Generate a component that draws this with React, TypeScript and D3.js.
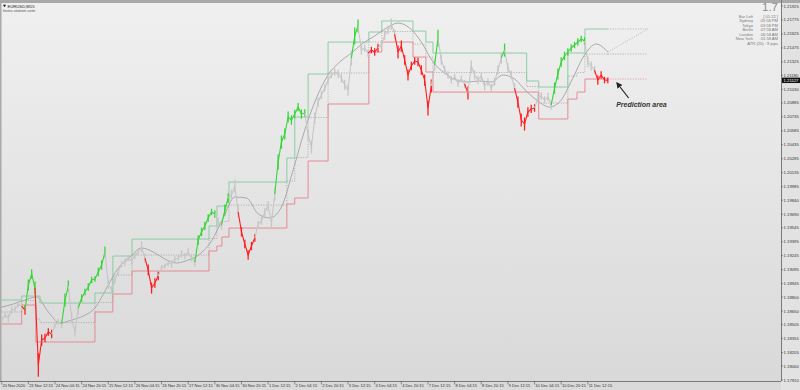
import React from 'react';
import * as d3 from 'd3';

const PRICE_TICKS = ["1.21925","1.21775","1.21625","1.21475","1.21325","1.21180","1.21030","1.20885","1.20735","1.20585","1.20435","1.20285","1.20135","1.19985","1.19840","1.19690","1.19545","1.19395","1.19245","1.19095","1.18945","1.18800","1.18650","1.18505","1.18355","1.18205","1.18060","1.17910"];
const TIME_LABELS = ["20 Nov 2020","23 Nov 12:15","24 Nov 04:15","24 Nov 20:15","25 Nov 12:15","26 Nov 04:15","26 Nov 20:15","27 Nov 12:15","30 Nov 04:15","30 Nov 20:15","1 Dec 12:15","2 Dec 04:15","2 Dec 20:15","3 Dec 12:15","4 Dec 04:15","4 Dec 20:15","7 Dec 12:15","8 Dec 04:15","8 Dec 20:15","9 Dec 12:15","10 Dec 04:15","10 Dec 20:15","11 Dec 12:15"];
const LABEL_BARS = 64;
const TOTAL_BARS = 1872;

// close every 8 bars (M15)
const PRICE_STEP = 8;
const PRICE = [
1.18554,1.18608,1.18575,1.18661,1.18672,1.18726,1.18704,1.18661,1.18930,1.19048,
1.18897,1.18071,1.18339,1.18361,1.18425,1.18404,1.18500,1.18532,1.18511,1.18769,
1.18919,1.18575,1.18425,1.18683,1.18790,1.18854,1.18908,1.18983,1.18994,1.19069,
1.19144,1.19284,1.18940,1.18876,1.18983,1.19069,1.19155,1.19176,1.19219,1.19187,
1.19252,1.19284,1.19338,1.19219,1.19091,1.18897,1.18951,1.19026,1.19112,1.19134,
1.19166,1.19155,1.19209,1.19219,1.19262,1.19241,1.19284,1.19219,1.19176,1.19413,
1.19500,1.19564,1.19650,1.19714,1.19693,1.19607,1.19575,1.19735,1.19864,1.19897,
1.19993,1.19714,1.19500,1.19370,1.19252,1.19348,1.19434,1.19585,1.19618,1.19714,
1.19778,1.19607,1.19907,1.20251,1.20465,1.20551,1.20733,1.20701,1.20765,1.20840,
1.20765,1.20776,1.20541,1.20411,1.20722,1.20894,1.20969,1.21044,1.21130,1.21184,
1.21216,1.21195,1.21152,1.21077,1.21023,1.21366,1.21603,1.21710,1.21452,1.21474,
1.21420,1.21452,1.21431,1.21474,1.21506,1.21613,1.21667,1.21731,1.21624,1.21431,
1.21495,1.21345,1.21184,1.21281,1.21334,1.21324,1.21238,1.21130,1.20830,1.21066,
1.21291,1.21581,1.21345,1.21238,1.21184,1.21130,1.21162,1.21099,1.21141,1.21087,
1.20991,1.21281,1.21184,1.21130,1.21173,1.21066,1.21109,1.21044,1.21109,1.21238,
1.21366,1.21452,1.21259,1.21184,1.21044,1.20894,1.20701,1.20658,1.20787,1.20820,
1.20830,1.20937,1.20959,1.20916,1.20949,1.20862,1.21044,1.21195,1.21324,1.21388,
1.21431,1.21474,1.21506,1.21538,1.21570,1.21549,1.21324,1.21281,1.21238,1.21130,
1.21184,1.21130,1.21127];
// high-low range (pips) of each 8-bar block
const RANGE_PIPS = [
8,7,9,8,6,7,9,10,12,10,14,
25,
12,9,8,9,7,6,8,
14,12,
12,10,14,
8,7,8,7,6,9,10,12,
10,9,8,9,7,8,7,8,9,8,12,10,
12,12,10,9,
7,6,6,8,7,6,8,7,9,8,10,
10,9,9,8,7,8,9,10,12,10,11,14,
12,10,9,10,9,8,
7,8,9,10,12,14,
16,14,12,12,10,9,9,10,8,
12,14,12,10,9,8,8,7,8,9,10,11,12,
16,18,14,
10,8,8,7,8,9,8,10,9,12,10,
14,12,10,12,9,8,9,10,12,16,14,
12,18,
10,9,8,8,7,8,7,9,
14,
12,10,9,8,9,8,9,8,10,12,
14,
10,9,10,12,14,14,10,9,8,
9,8,8,9,10,
12,12,10,9,8,8,7,8,7,8,
12,10,9,10,8,7,6];
// n = between channels, u = above upper channel, d = below lower channel
const STATE_RUNS: [string, number][] = [
["n",7],["d",1],["u",3],["d",5],["n",3],["u",2],["n",3],["u",8],["n",12],["d",4],
["n",11],["u",6],["n",2],["u",2],["n",3],["d",5],["n",6],["u",9],["n",14],["u",2],
["n",3],["d",3],["n",5],["d",11],["n",1],["u",1],["n",8],["d",1],["n",10],["u",1],
["n",3],["d",6],["n",5],["u",10],["n",3],["d",4]];

const MA_STEP = 28;
const MA = [1.18693,1.18726,1.18769,1.18801,1.18640,1.18522,1.18554,1.18597,1.18683,1.18897,
1.19112,1.19230,1.19327,1.19284,1.19209,1.19166,1.19198,1.19262,1.19403,1.19650,
1.19874,1.19864,1.19693,1.19650,1.19767,1.20164,1.20593,1.20937,1.21184,1.21324,
1.21420,1.21527,1.21603,1.21688,1.21742,1.21688,1.21538,1.21324,1.21205,1.21130,
1.21109,1.21120,1.21109,1.21184,1.21141,1.21012,1.20905,1.20840,1.20916,1.21152,
1.21399,1.21517,1.21431];

const CH_BREAKS = [0,48,82,92,224,267,313,498,517,529,546,685,704,736,784,882,913,988,1019,1036,1261,1290,1360,1382,1401,1456];
const UPPER = [1.18769,1.18811,1.18811,1.18736,1.18844,1.19241,1.19423,1.19563,1.19778,1.19778,1.20035,1.20293,1.20733,1.21195,1.21538,1.21646,1.21764,1.21656,1.21538,1.21420,1.21120,1.21055,1.21420,1.21420,1.21678];
const LOWER = [1.18511,1.18715,1.18318,1.18318,1.18640,1.18833,1.19080,1.19295,1.19348,1.19445,1.19541,1.19799,1.19864,1.20261,1.20873,1.21431,1.21538,1.21377,1.21216,1.21001,1.21001,1.20712,1.20926,1.21001,1.21141];
const PREDICT_BARS = 96;
const CURRENT_PRICE = 1.21127;

const INFO_LABELS = ["Bar Left", "Sydney", "Tokyo", "Berlin", "London", "New York"];
const INFO_VALUES = ["[ 01:22 ]", "05:58 PM", "03:58 PM", "07:58 AM", "06:58 AM", "01:58 AM"];
const ATR_TEXT = "ATR (20) : 9 pips";
const SPREAD_TEXT = "1.7";

const W = 800, H = 390;
const PLOT_R = 781, PLOT_B = 381;
const FONT = "'Liberation Sans', Arial, sans-serif";
const COLORS: Record<string, string> = { u: "#35d635", d: "#ff1e1e", n: "#c6c6c6" };
const PIP = 0.0001;

export default function App() {
  const x = d3.scaleLinear().domain([0, TOTAL_BARS]).range([1.7, PLOT_R]);
  const y = d3.scaleLinear().domain([1.17910, 1.21925]).range([380, 6]);

  const states: string[] = [];
  STATE_RUNS.forEach(([s, n]) => { for (let i = 0; i < n; i++) states.push(s); });

  const pts = PRICE.map((p, i) => ({ b: i * PRICE_STEP, p, s: states[i] || 'n', r: RANGE_PIPS[i] || 6 }));
  const runs: { s: string; pts: { b: number; p: number }[] }[] = [];
  pts.forEach((pt, i) => {
    const last = runs[runs.length - 1];
    if (last && last.s === pt.s) last.pts.push(pt);
    else runs.push({ s: pt.s, pts: i > 0 ? [pts[i - 1], pt] : [pt] });
  });
  const line = d3.line<{ b: number; p: number }>().x(d => x(d.b)).y(d => y(d.p));

  const maPts = MA.map((p, i) => ({ b: i * MA_STEP, p }));
  const maLine = d3.line<{ b: number; p: number }>().x(d => x(d.b)).y(d => y(d.p)).curve(d3.curveMonotoneX);

  const endBar = CH_BREAKS[CH_BREAKS.length - 1];
  const stepPts = (vals: number[]) => [...vals.map((v, i) => ({ b: CH_BREAKS[i], p: v })), { b: endBar, p: vals[vals.length - 1] }];
  const step = d3.line<{ b: number; p: number }>().x(d => x(d.b)).y(d => y(d.p)).curve(d3.curveStepAfter);
  const mid = UPPER.map((u, i) => (u + LOWER[i]) / 2);

  const predEnd = endBar + PREDICT_BARS;
  const lastU = UPPER[UPPER.length - 1], lastL = LOWER[LOWER.length - 1], lastM = mid[mid.length - 1];
  const maLast = MA[MA.length - 1];

  return (
    <svg width={W} height={H} style={{ position: 'fixed', left: 0, top: 0, display: 'block' }} fontFamily={FONT}>
      <defs>
        <linearGradient id="bg" x1="0" y1="0" x2="0" y2="1">
          <stop offset="0" stopColor="#f0f0f0" />
          <stop offset="1" stopColor="#d9d9d9" />
        </linearGradient>
        <marker id="ah" viewBox="0 0 10 10" refX="8" refY="5" markerWidth="5" markerHeight="5" orient="auto">
          <path d="M0,0 L10,5 L0,10 Z" fill="#222" />
        </marker>
      </defs>
      <rect x={0} y={0} width={W} height={H} fill="#dcdcdc" />
      <rect x={0} y={0} width={PLOT_R} height={PLOT_B} fill="url(#bg)" />
      <rect x={PLOT_R} y={0} width={W - PLOT_R} height={H} fill="#e2e2e2" />
      <rect x={0} y={PLOT_B} width={PLOT_R} height={H - PLOT_B} fill="#dadada" />
      <rect x={0} y={0} width={W} height={3} fill="#a9a9a9" />
      <rect x={0} y={0} width={1.5} height={PLOT_B} fill="#a9a9a9" />

      {/* channels */}
      <path d={step(stepPts(mid)) || ''} fill="none" stroke="#9a9a9a" strokeWidth={0.8} strokeDasharray="1,1.5" />
      <path d={step(stepPts(UPPER)) || ''} fill="none" stroke="#80cb9e" strokeWidth={0.9} />
      <path d={step(stepPts(LOWER)) || ''} fill="none" stroke="#e6808b" strokeWidth={0.9} />

      {/* prediction area */}
      <line x1={x(endBar)} x2={x(predEnd)} y1={y(lastU)} y2={y(lastU)} stroke="#a8a8a8" strokeWidth={0.8} strokeDasharray="1,1.5" />
      <line x1={x(endBar)} x2={x(predEnd)} y1={y(lastM)} y2={y(lastM)} stroke="#9a9a9a" strokeWidth={0.8} strokeDasharray="1,1.5" />
      <line x1={x(endBar)} x2={x(predEnd)} y1={y(lastL)} y2={y(lastL)} stroke="#e6808b" strokeWidth={0.8} strokeDasharray="1,1.5" />
      <line x1={x(endBar)} x2={x(predEnd)} y1={y(maLast)} y2={y(lastU)} stroke="#a8a8a8" strokeWidth={0.8} strokeDasharray="1,1.5" />

      {/* MA */}
      <path d={maLine(maPts) || ''} fill="none" stroke="#a9a9a9" strokeWidth={1} />

      {/* price: block ranges and closes */}
      {pts.map((pt, i) => (
        <line key={'r' + i} x1={x(pt.b)} x2={x(pt.b)} y1={y(pt.p + pt.r * PIP * 0.5)} y2={y(pt.p - pt.r * PIP * 0.5)}
          stroke={COLORS[pt.s]} strokeWidth={1.3} />
      ))}
      {runs.map((r, i) => (
        <path key={i} d={line(r.pts) || ''} fill="none" stroke={COLORS[r.s]} strokeWidth={1.1} strokeLinejoin="round" />
      ))}

      {/* frame */}
      <line x1={PLOT_R + 0.5} x2={PLOT_R + 0.5} y1={0} y2={PLOT_B} stroke="#7a7a7a" strokeWidth={1} />
      <line x1={0} x2={PLOT_R} y1={PLOT_B + 0.5} y2={PLOT_B + 0.5} stroke="#7a7a7a" strokeWidth={1} />

      {/* y axis */}
      {PRICE_TICKS.map(t => (
        <g key={t}>
          <line x1={PLOT_R} x2={PLOT_R + 2} y1={y(+t)} y2={y(+t)} stroke="#555" strokeWidth={0.6} />
          <text x={PLOT_R + 2.6} y={y(+t) + 1.5} fontSize={4.2} fill="#333">{t}</text>
        </g>
      ))}
      <rect x={PLOT_R + 1} y={y(CURRENT_PRICE) - 2.7} width={W - PLOT_R - 1} height={5.4} fill="#111" />
      <text x={PLOT_R + 2.6} y={y(CURRENT_PRICE) + 1.5} fontSize={4.2} fill="#fff">{CURRENT_PRICE.toFixed(5)}</text>

      {/* x axis */}
      {TIME_LABELS.map((t, i) => (
        <g key={t}>
          <line x1={x(i * LABEL_BARS)} x2={x(i * LABEL_BARS)} y1={PLOT_B} y2={PLOT_B + 3.5} stroke="#555" strokeWidth={0.6} />
          <text x={x(i * LABEL_BARS) + 0.8} y={PLOT_B + 6.3} fontSize={4} fill="#333">{t}</text>
        </g>
      ))}

      {/* header */}
      <path d="M3,4.8 L6,4.8 L4.5,7.3 Z" fill="#111" />
      <text x={7.5} y={7.6} fontSize={4.2} fill="#222">EURUSD,M15</text>
      <text x={3} y={12.3} fontSize={4.2} fill="#555">forex-station.com</text>

      {/* info panel */}
      <text x={778} y={11.4} fontSize={11.5} fill="#8c8c8c" textAnchor="end">{SPREAD_TEXT}</text>
      {INFO_LABELS.map((l, i) => (
        <g key={l}>
          <text x={753} y={17.6 + i * 4.5} fontSize={4.1} fill="#7a7a7a" textAnchor="end">{l}</text>
          <text x={778} y={17.6 + i * 4.5} fontSize={4.1} fill="#7a7a7a" textAnchor="end">{INFO_VALUES[i]}</text>
        </g>
      ))}
      <text x={778} y={17.6 + 6 * 4.5} fontSize={4.1} fill="#7a7a7a" textAnchor="end">{ATR_TEXT}</text>

      {/* annotation */}
      <line x1={x(endBar + 50)} y1={98} x2={x(endBar + 22)} y2={83} stroke="#222" strokeWidth={1.2} markerEnd="url(#ah)" />
      <text x={x(endBar + 20)} y={106.5} fontSize={7} fontStyle="italic" fontWeight="bold" fill="#333">Prediction area</text>
    </svg>
  );
}
